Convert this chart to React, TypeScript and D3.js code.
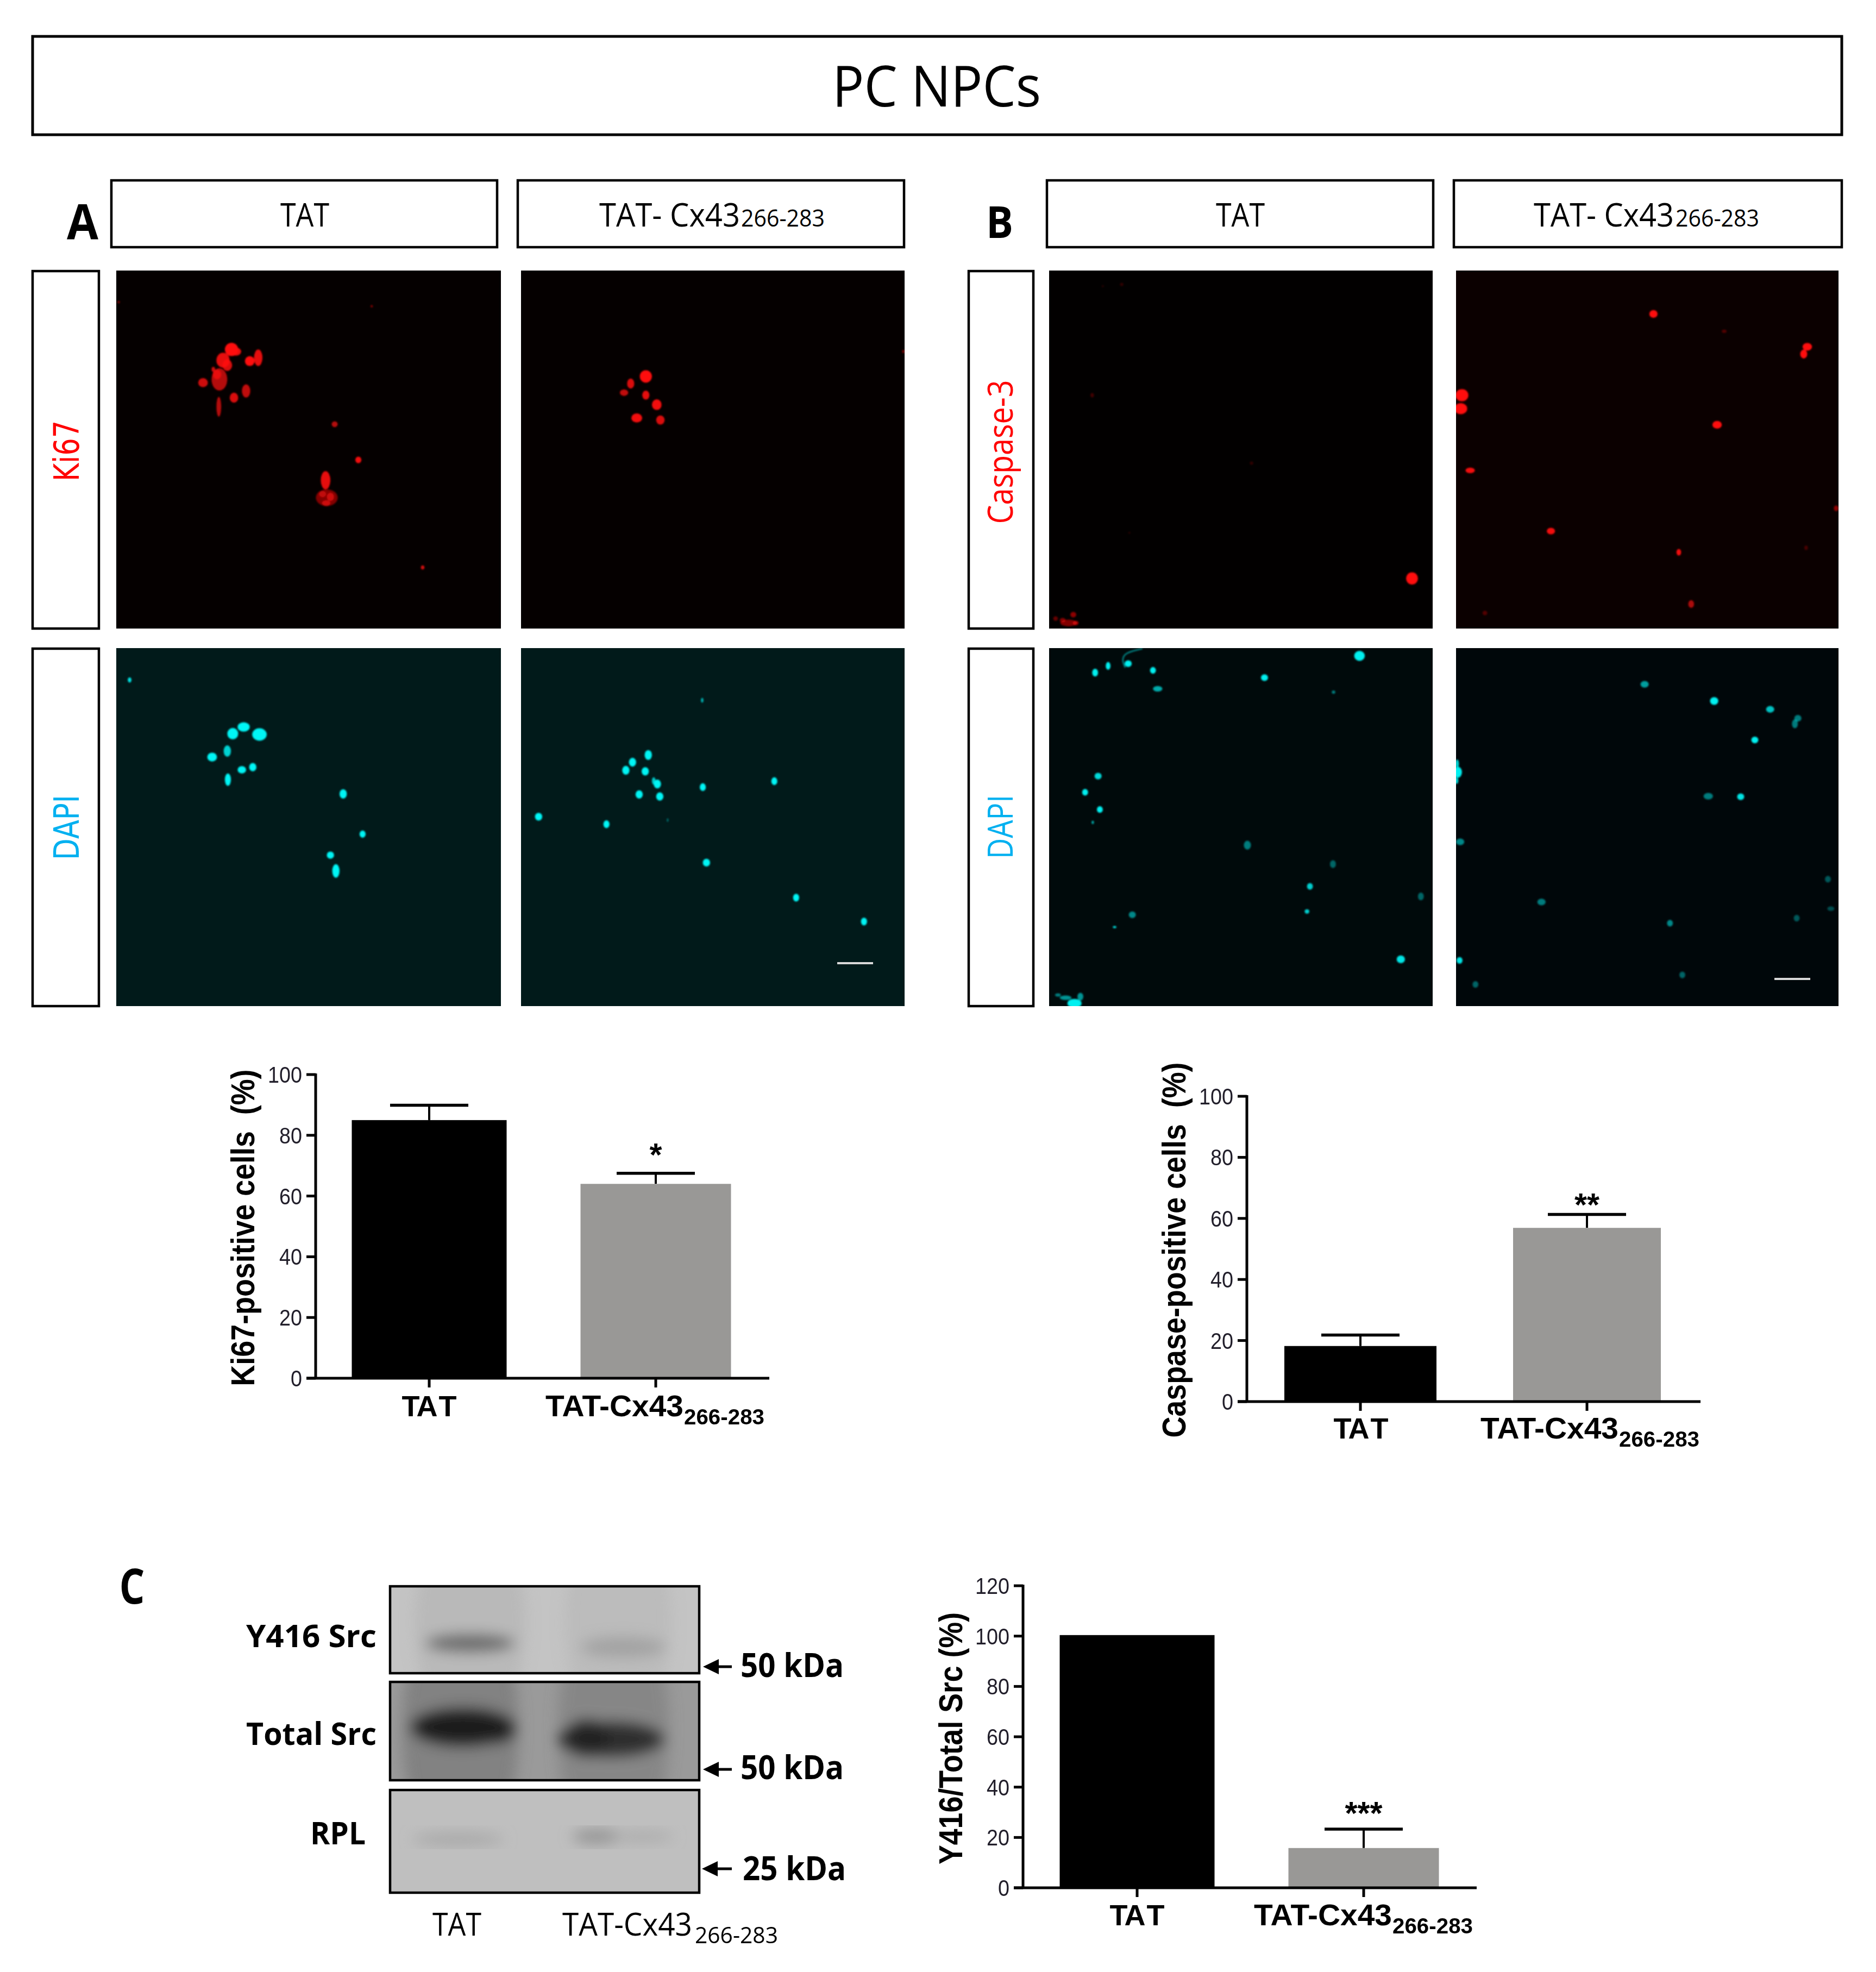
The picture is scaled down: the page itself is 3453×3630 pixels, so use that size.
import React from "react";
import * as d3 from "d3";

type Cell = number[];

// ---------- bar chart data ----------
const categories = ["TAT", "TAT-Cx43"];
const subscript = "266-283";
const ki67Values = [85, 64];
const ki67Errors = [4.9, 3.5];
const ki67Ticks = [0, 20, 40, 60, 80, 100];
const caspaseValues = [18.2, 56.9];
const caspaseErrors = [3.6, 4.4];
const caspaseTicks = [0, 20, 40, 60, 80, 100];
const srcValues = [100.4, 15.8];
const srcErrors = [0, 7.5];
const srcTicks = [0, 20, 40, 60, 80, 100, 120];

// ---------- micrograph spots: x, y, rx, ry, brightness (read in crop units) ----------
const ki67TatCells: Cell[] = [
  [382, 840, 11, 16, 1], [389, 845, 9, 10, 0.9], [368, 866, 11, 18, 0.9], [375, 878, 8, 14, 0.85], [412, 868, 8, 12, 1], [426, 860, 7, 20, 0.9],
  [352, 888, 3, 6, 0.8], [362, 912, 13, 27, 0.7], [358, 900, 7, 12, 0.7], [335, 920, 8, 11, 0.8], [386, 956, 7, 12, 0.85], [406, 940, 7, 16, 0.75],
  [361, 978, 4, 24, 0.7], [552, 1020, 5, 7, 0.7], [591, 1106, 5, 8, 0.95], [537, 1155, 8, 22, 0.9],
  [539, 1197, 18, 20, 0.5], [532, 1188, 6, 8, 0.5], [545, 1195, 6, 10, 0.6], [538, 1210, 7, 7, 0.6],
  [697, 1365, 3, 5, 0.8], [613, 736, 2, 3, 0.5], [196, 726, 2, 3, 0.5],
];
const ki67CxCells: Cell[] = [
  [1065, 905, 10, 15, 1], [1040, 922, 6, 12, 0.85], [1065, 950, 6, 11, 0.9], [1029, 944, 7, 8, 0.75],
  [1083, 973, 8, 13, 0.95], [1050, 1005, 9, 11, 0.95], [1089, 1010, 7, 11, 0.85], [1490, 845, 2, 4, 0.5],
];
const dapiTatCellsA: Cell[] = [
  [214, 211, 3, 10, 0.9], [402, 392, 10, 18, 1], [384, 418, 9, 22, 1], [428, 421, 12, 24, 1], [375, 485, 6, 22, 0.85],
  [350, 508, 8, 17, 1], [417, 547, 6, 16, 1], [399, 557, 7, 14, 1], [376, 595, 5, 24, 1], [566, 650, 6, 18, 1],
  [598, 805, 5, 14, 1], [545, 886, 6, 14, 1], [554, 947, 6, 26, 1],
];
const dapiCxCellsA: Cell[] = [
  [1158, 289, 2, 9, 0.7], [1069, 500, 6, 19, 1], [1043, 528, 6, 17, 1], [1032, 559, 6, 17, 1], [1064, 563, 6, 16, 1],
  [1084, 612, 6, 17, 1], [1078, 600, 3, 14, 0.8], [1054, 652, 6, 16, 1], [1088, 660, 6, 16, 1], [1159, 624, 5, 15, 1],
  [1277, 601, 5, 15, 1], [888, 738, 6, 15, 1], [1000, 767, 5, 15, 1], [1101, 751, 1.5, 7, 0.35], [1165, 915, 6, 15, 1],
  [1313, 1050, 5, 15, 1], [1425, 1142, 5, 15, 1],
];
const caspaseTatCells: Cell[] = [
  [782, 750, 10, 11, 1], [200, 830, 14, 6, 0.5], [208, 815, 5, 5, 0.55], [190, 825, 5, 4, 0.5], [178, 822, 4, 4, 0.4], [212, 830, 5, 4, 0.6],
  [240, 421, 3, 4, 0.25], [510, 543, 3, 3, 0.18], [290, 222, 3, 3, 0.18],
  [258, 225, 2, 2, 0.15], [303, 668, 2, 2, 0.15],
];
const caspaseCxCells: Cell[] = [
  [1191, 275, 7, 7, 1], [1452, 334, 8, 7, 1], [1446, 347, 6, 8, 1], [866, 421, 11, 11, 1], [864, 445, 11, 10, 1],
  [1299, 474, 8, 7, 1], [880, 556, 8, 5, 0.95], [1017, 665, 7, 6, 0.95], [1234, 703, 4, 6, 0.95], [1255, 796, 5, 7, 0.65],
  [1501, 624, 4, 5, 0.55], [1311, 306, 4, 3, 0.3], [905, 812, 4, 4, 0.3], [1450, 695, 3, 4, 0.25],
];
const dapiTatCellsB: Cell[] = [
  [245, 921, 5, 7, 1], [267, 909, 4, 7, 1], [301, 905, 6, 6, 1], [343, 917, 5, 6, 1], [351, 950, 8, 5, 0.7],
  [532, 930, 6, 6, 1], [693, 891, 9, 9, 1], [649, 956, 3, 3, 0.5], [250, 1107, 6, 6, 0.9], [228, 1136, 5, 6, 1],
  [253, 1167, 5, 6, 1], [241, 1190, 2, 3, 0.7], [503, 1231, 6, 8, 0.5], [648, 1265, 5, 7, 0.4], [609, 1305, 5, 6, 0.85],
  [604, 1350, 4, 4, 0.85], [797, 1323, 5, 7, 0.4], [308, 1356, 6, 6, 0.55], [278, 1378, 3, 2, 0.9], [763, 1436, 7, 7, 0.95],
  [210, 1515, 12, 8, 1], [195, 1505, 10, 4, 0.6], [220, 1503, 5, 7, 0.6], [182, 1500, 5, 3, 0.5],
];
const dapiCxCellsB: Cell[] = [
  [1176, 942, 7, 6, 0.65], [1294, 972, 7, 7, 1], [1389, 987, 7, 6, 0.8], [1363, 1042, 6, 6, 1], [1436, 1003, 6, 6, 0.5],
  [1431, 1013, 5, 8, 0.5], [859, 1100, 7, 10, 1], [858, 1085, 3, 8, 0.9], [857, 1115, 3, 6, 0.9], [1284, 1143, 8, 6, 0.5],
  [1339, 1144, 6, 6, 0.95], [863, 1225, 7, 6, 0.55], [1001, 1333, 7, 6, 0.5], [1219, 1371, 5, 6, 0.55], [1434, 1362, 5, 6, 0.35],
  [1487, 1292, 5, 6, 0.35], [1492, 1345, 6, 4, 0.3], [862, 1438, 5, 6, 0.95], [1240, 1464, 5, 6, 0.4], [889, 1481, 5, 6, 0.4],
];
const dapiFilament: number[][] = [[296, 912], [290, 898], [296, 885], [325, 878]];

// ---------- blot tone patches: x, y, rx, ry, grey, opacity (read in crop units) ----------
const y416Bands: Cell[] = [
  [745, 260, 115, 400, 178, 0.6], [1050, 260, 110, 400, 180, 0.5],
  [745, 335, 92, 34, 105, 1], [1060, 350, 88, 38, 158, 0.85],
];
const totalSrcBands: Cell[] = [
  [725, 660, 120, 500, 118, 0.7], [1040, 660, 115, 500, 122, 0.6],
  [730, 650, 108, 72, 30, 1], [1035, 695, 110, 66, 45, 1], [985, 690, 45, 70, 36, 0.9], [800, 660, 38, 50, 25, 0.9],
];
const rplBands: Cell[] = [
  [720, 1070, 95, 24, 162, 0.8], [1005, 1060, 50, 28, 145, 0.9], [1100, 1060, 65, 18, 162, 0.75],
];

function T({ x, y, len, size, fill = "#000", weight = 400, family = "Open Sans", anchor = "start", rotate = false, dx, children }: any) {
  const props: any = {};
  if (len) {
    props.textLength = len;
    props.lengthAdjust = "spacingAndGlyphs";
  }
  if (dx) props.dx = dx;
  return (
    <text
      x={rotate ? 0 : x}
      y={rotate ? 0 : y}
      transform={rotate ? `translate(${x},${y}) rotate(-90)` : undefined}
      fontFamily={family}
      fontSize={size}
      fontWeight={weight}
      fill={fill}
      textAnchor={anchor}
      {...props}
    >
      {children}
    </text>
  );
}

function Box({ x0, x1, y0, y1, w = 4.5 }: any) {
  return <rect x={x0} y={y0} width={x1 - x0} height={y1 - y0} fill="#fff" stroke="#000" strokeWidth={w} />;
}

let clipCount = 0;
function Micrograph({ rect, dom, bg, fill, cells, extra }: any) {
  const sx = d3.scaleLinear().domain([dom[0], dom[1]]).range([rect[0], rect[1]]);
  const sy = d3.scaleLinear().domain([dom[2], dom[3]]).range([rect[2], rect[3]]);
  const kx = (rect[1] - rect[0]) / (dom[1] - dom[0]);
  const ky = (rect[3] - rect[2]) / (dom[3] - dom[2]);
  const id = `clip${clipCount++}`;
  const line = d3.line().x((d: any) => sx(d[0])).y((d: any) => sy(d[1])).curve(d3.curveBasis);
  return (
    <g>
      <clipPath id={id}>
        <rect x={rect[0]} y={rect[2]} width={rect[1] - rect[0]} height={rect[3] - rect[2]} />
      </clipPath>
      <rect x={rect[0]} y={rect[2]} width={rect[1] - rect[0]} height={rect[3] - rect[2]} fill={bg} />
      <g clipPath={`url(#${id})`}>
        <g filter="url(#soft)">
          {cells.map((c: Cell, i: number) => (
            <ellipse key={i} cx={sx(c[0])} cy={sy(c[1])} rx={c[2] * kx} ry={c[3] * ky} fill={fill} opacity={c[4]} />
          ))}
          {extra && <path d={line(extra as any) as string} fill="none" stroke={fill} strokeWidth={2.5} opacity={0.55} />}
        </g>
      </g>
    </g>
  );
}

function Blot({ rect, bg, bands }: any) {
  const sx = d3.scaleLinear().domain([580, 1217]).range([718, 1287]);
  const sy = d3.scaleLinear().domain([122, 1270]).range([2920, 3484]);
  const kx = 569 / 637;
  const ky = 564 / 1148;
  const id = `clip${clipCount++}`;
  return (
    <g>
      <clipPath id={id}>
        <rect x={rect[0]} y={rect[2]} width={rect[1] - rect[0]} height={rect[3] - rect[2]} />
      </clipPath>
      <rect x={rect[0]} y={rect[2]} width={rect[1] - rect[0]} height={rect[3] - rect[2]} fill={bg} />
      <g clipPath={`url(#${id})`}>
        <g filter="url(#blotBlur)">
          {bands.map((b: Cell, i: number) => (
            <ellipse key={i} cx={sx(b[0])} cy={sy(b[1])} rx={b[2] * kx} ry={b[3] * ky} fill={`rgb(${b[4]},${b[4]},${b[4]})`} opacity={b[5]} />
          ))}
        </g>
      </g>
      <rect x={rect[0]} y={rect[2]} width={rect[1] - rect[0]} height={rect[3] - rect[2]} fill="none" stroke="#000" strokeWidth={4.5} />
    </g>
  );
}

function BarChart({ values, errors, ticks, domainMax, L }: any) {
  const y = d3.scaleLinear().domain([0, domainMax]).range([L.y0, L.y1]);
  const x = d3.scalePoint().domain(categories).range([L.c0, L.c1]);
  const axisW = 5;
  return (
    <g>
      {categories.map((c, i) => {
        const cx = x(c) as number;
        const isBlack = i === 0;
        const w = isBlack ? L.barW + 8 : L.barW;
        return (
          <g key={c}>
            {errors[i] > 0 && (
              <g stroke="#000">
                <line x1={cx} x2={cx} y1={y(values[i])} y2={y(values[i] + errors[i])} strokeWidth={4} />
                <line x1={cx - 72} x2={cx + 72} y1={y(values[i] + errors[i])} y2={y(values[i] + errors[i])} strokeWidth={5.5} />
              </g>
            )}
            <rect x={cx - w / 2} y={y(values[i])} width={w} height={L.y0 - y(values[i])} fill={isBlack ? "#000" : "#999896"} />
            <line x1={cx} x2={cx} y1={L.y0} y2={L.y0 + 17} stroke="#000" strokeWidth={axisW} />
          </g>
        );
      })}
      <line x1={L.xA} x2={L.xA} y1={y(domainMax) - 2} y2={L.y0 + 2} stroke="#000" strokeWidth={axisW} />
      <line x1={L.xA - 17} x2={L.xEnd} y1={L.y0} y2={L.y0} stroke="#000" strokeWidth={axisW} />
      {ticks.map((t: number) => (
        <g key={t}>
          <line x1={L.xA - 17} x2={L.xA} y1={y(t)} y2={y(t)} stroke="#000" strokeWidth={axisW} />
          <T x={L.xA - 25} y={y(t) + 15} len={String(t).length * 21} size={42} family="Liberation Sans" anchor="end" fill="#211e2a">
            {t}
          </T>
        </g>
      ))}
      <T x={L.titleX} y={L.titleY} len={L.titleLen} size={62} family="Liberation Sans" weight={700} anchor="middle" rotate>
        {L.title}
      </T>
      <T x={L.tatX} y={L.labelY} size={54} family="Liberation Sans" weight={700} anchor="middle" dx="0 -2 6">
        {categories[0]}
      </T>
      <T x={L.cxX} y={L.labelY} len={254} size={56} family="Liberation Sans" weight={700}>
        {categories[1]}
      </T>
      <T x={L.cxX + 255} y={L.labelY + 15} len={148} size={41} family="Liberation Sans" weight={700}>
        {subscript}
      </T>
      <T x={x(categories[1]) as number} y={L.starY} size={60} family="Liberation Sans" weight={700} anchor="middle" len={L.starLen}>
        {L.star}
      </T>
    </g>
  );
}

function Arrow({ x1, x2, y }: any) {
  return (
    <g>
      <line x1={x1} x2={x2 + 15} y1={y} y2={y} stroke="#000" strokeWidth={5} />
      <path d={`M${x2},${y}L${x2 + 29},${y - 14}L${x2 + 29},${y + 14}Z`} fill="#000" />
    </g>
  );
}

const lightBlue = "#00b0f0";
const red = "#ff0000";

export default function App() {
  clipCount = 0;
  const A1 = [214, 922];
  const A2 = [959, 1665];
  const B1 = [1931, 2637];
  const B2 = [2680, 3384];
  const rowTop = [498, 1157];
  const rowBot = [1193, 1852];
  const LA = { y0: 2537, y1: 1978, c0: 790, c1: 1207, barW: 277, xA: 581, xEnd: 1416, title: "Ki67-positive cells\u00a0\u00a0(%)", titleX: 468, titleY: 2260, titleLen: 583, tatX: 790, cxX: 1004, labelY: 2607, star: "*", starLen: 23, starY: 2146 };
  const LB = { y0: 2580, y1: 2018, c0: 2504, c1: 2921, barW: 272, xA: 2295, xEnd: 3130, title: "Caspase-positive cells\u00a0\u00a0(%)", titleX: 2182, titleY: 2301, titleLen: 691, tatX: 2505, cxX: 2725, labelY: 2648, star: "**", starLen: 46, starY: 2238 };
  const LC = { y0: 3475, y1: 2919, c0: 2093, c1: 2510, barW: 277, xA: 1883, xEnd: 2718, title: "Y416/Total Src (%)", titleX: 1771, titleY: 3200, titleLen: 464, tatX: 2093, cxX: 2308, labelY: 3544, star: "***", starLen: 69, starY: 3358 };
  return (
    <svg width={3453} height={3630} style={{ position: "absolute", left: 0, top: 0, display: "block", background: "#fff" }}>
      <defs>
        <filter id="soft" x="-5%" y="-5%" width="110%" height="110%">
          <feGaussianBlur stdDeviation={1.6} />
        </filter>
        <filter id="blotBlur" x="-20%" y="-20%" width="140%" height="140%">
          <feGaussianBlur stdDeviation={13} />
        </filter>
      </defs>

      <Box x0={60} x1={3390} y0={67} y1={248} w={5} />
      <T x={1724} y={196} len={384} size={104} anchor="middle">PC NPCs</T>

      <T x={152} y={440} len={58} size={90} weight={700} anchor="middle">A</T>
      <Box x0={205} x1={915} y0={332} y1={455} />
      <Box x0={953} x1={1664} y0={332} y1={455} />
      <T x={561} y={417} len={90} size={60} anchor="middle">TAT</T>
      <T x={1103} y={417} len={259} size={60}>TAT- Cx43</T>
      <T x={1364} y={417} len={154} size={43}>{subscript}</T>

      <T x={1840} y={438} len={50} size={80} weight={700} anchor="middle">B</T>
      <Box x0={1927} x1={2638} y0={332} y1={455} />
      <Box x0={2676} x1={3390} y0={332} y1={455} />
      <T x={2283} y={417} len={90} size={60} anchor="middle">TAT</T>
      <T x={2823} y={417} len={258} size={60}>TAT- Cx43</T>
      <T x={3084} y={417} len={154} size={43}>{subscript}</T>

      <Box x0={60} x1={182} y0={499} y1={1157} />
      <Box x0={60} x1={182} y0={1194} y1={1852} />
      <Box x0={1783} x1={1902} y0={499} y1={1157} />
      <Box x0={1783} x1={1902} y0={1194} y1={1852} />
      <T x={145} y={830} len={112} size={64} fill={red} anchor="middle" family="DejaVu Sans" rotate>Ki67</T>
      <T x={145} y={1523} len={120} size={64} fill={lightBlue} anchor="middle" family="DejaVu Sans" rotate>DAPI</T>
      <T x={1864} y={832} len={265} size={64} fill={red} anchor="middle" rotate>Caspase-3</T>
      <T x={1864} y={1522} len={118} size={64} fill={lightBlue} anchor="middle" rotate>DAPI</T>

      <Micrograph rect={[...A1, ...rowTop]} dom={[192, 826, 650, 1512]} bg="#050000" fill="#ff0a0a" cells={ki67TatCells} />
      <Micrograph rect={[...A2, ...rowTop]} dom={[859, 1492, 650, 1512]} bg="#050000" fill="#ff0a0a" cells={ki67CxCells} />
      <Micrograph rect={[...A1, ...rowBot]} dom={[192, 826, 88, 1468]} bg="#011a1a" fill="#00f5f5" cells={dapiTatCellsA} />
      <Micrograph rect={[...A2, ...rowBot]} dom={[859, 1492, 88, 1468]} bg="#011a1a" fill="#00f5f5" cells={dapiCxCellsA} />
      <Micrograph rect={[...B1, ...rowTop]} dom={[167, 817, 197, 840]} bg="#020000" fill="#ff0a0a" cells={caspaseTatCells} />
      <Micrograph rect={[...B2, ...rowTop]} dom={[856, 1505, 197, 840]} bg="#0b0000" fill="#ff0a0a" cells={caspaseCxCells} />
      <Micrograph rect={[...B1, ...rowBot]} dom={[167, 817, 877, 1520]} bg="#000a0b" fill="#00f0f0" cells={dapiTatCellsB} extra={dapiFilament} />
      <Micrograph rect={[...B2, ...rowBot]} dom={[856, 1505, 877, 1520]} bg="#00070a" fill="#00f0f0" cells={dapiCxCellsB} />
      <rect x={1541} y={1771} width={66} height={4} fill="#d8d8d8" />
      <rect x={3266} y={1800} width={66} height={4} fill="#d8d8d8" />

      <BarChart values={ki67Values} errors={ki67Errors} ticks={ki67Ticks} domainMax={100} L={LA} />
      <BarChart values={caspaseValues} errors={caspaseErrors} ticks={caspaseTicks} domainMax={100} L={LB} />
      <BarChart values={srcValues} errors={srcErrors} ticks={srcTicks} domainMax={120} L={LC} />

      <T x={243} y={2952} len={47} size={90} weight={700} anchor="middle">C</T>
      <Blot rect={[718, 1287, 2920, 3080]} bg="#c4c4c4" bands={y416Bands} />
      <Blot rect={[718, 1287, 3096, 3277]} bg="#9a9a9a" bands={totalSrcBands} />
      <Blot rect={[718, 1287, 3295, 3484]} bg="#bfbfbf" bands={rplBands} />
      <T x={453} y={3032} len={240} size={58} weight={700}>Y416 Src</T>
      <T x={453} y={3212} len={240} size={58} weight={700}>Total Src</T>
      <T x={571} y={3395} len={102} size={58} weight={700}>RPL</T>
      <Arrow x1={1347} x2={1294} y={3068} />
      <Arrow x1={1347} x2={1294} y={3257} />
      <Arrow x1={1347} x2={1292} y={3440} />
      <T x={1363} y={3087} len={190} size={60} weight={700}>50 kDa</T>
      <T x={1363} y={3275} len={190} size={60} weight={700}>50 kDa</T>
      <T x={1367} y={3461} len={190} size={60} weight={700}>25 kDa</T>
      <T x={841} y={3563} len={90} size={58} weight={500} anchor="middle">TAT</T>
      <T x={1035} y={3563} len={239} size={58} weight={500}>TAT-Cx43</T>
      <T x={1279} y={3577} len={153} size={42} weight={500}>{subscript}</T>
    </svg>
  );
}
